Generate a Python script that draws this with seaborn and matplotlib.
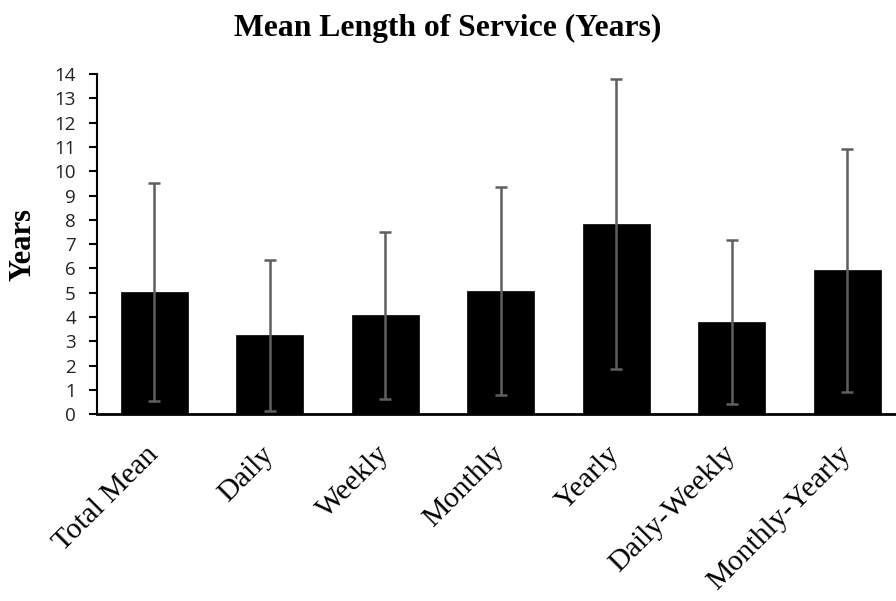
import matplotlib
matplotlib.use("Agg")
import matplotlib.pyplot as plt
import seaborn as sns
import pandas as pd

categories = ["Total Mean", "Daily", "Weekly", "Monthly", "Yearly",
              "Daily-Weekly", "Monthly-Yearly"]
mean_years = [5.03, 3.25, 4.07, 5.09, 7.83, 3.81, 5.92]
sd_years = [4.5, 3.1, 3.45, 4.28, 5.97, 3.38, 5.01]
y_ticks = list(range(0, 15))

df = pd.DataFrame({"category": categories, "mean": mean_years, "sd": sd_years})

sns.set_theme(style="white")
serif = ["Liberation Serif", "DejaVu Serif"]

fig = plt.figure(figsize=(8.96, 6.01), dpi=100)
ax = fig.add_axes([0.108, 0.3106, 0.902, 0.5662])

sns.barplot(data=df, x="category", y="mean", color="black", width=0.58,
            errorbar=None, saturation=1, ax=ax)
for p in ax.patches:
    p.set_edgecolor("black")
    p.set_linewidth(0.5)

centers = [p.get_x() + p.get_width() / 2 for p in ax.patches]
ax.errorbar(centers, df["mean"], yerr=df["sd"], fmt="none", ecolor="#5f5f5f",
            elinewidth=1.8, capsize=4.3, capthick=1.8, zorder=3)

ax.set_xlim(-0.5, len(categories) - 0.5)
ax.set_ylim(0, 14)
ax.set_yticks(y_ticks)
ax.set_yticklabels([str(t) for t in y_ticks], fontsize=13.5,
                   family=["Open Sans", "DejaVu Sans"], color="#222222")
ax.tick_params(axis="y", which="major", left=True, length=6, width=1.5,
               color="black", pad=9)
ax.tick_params(axis="x", bottom=False, pad=20)

for lbl in ax.get_xticklabels():
    lbl.set_rotation(45)
    lbl.set_ha("right")
    lbl.set_va("center")
    lbl.set_rotation_mode("anchor")
    lbl.set_family(serif)
    lbl.set_fontsize(21.5)
    lbl.set_color("black")

for side in ["top", "right"]:
    ax.spines[side].set_visible(False)
ax.spines["left"].set_color("black")
ax.spines["left"].set_linewidth(1.5)
ax.spines["bottom"].set_color("black")
ax.spines["bottom"].set_linewidth(2.0)

ax.set_xlabel("")
ax.set_ylabel("Years", fontsize=22, fontweight="bold", family=serif,
              color="black")
ax.yaxis.set_label_coords(-0.073, 0.5)

fig.text(0.5, 0.953, "Mean Length of Service (Years)", ha="center", va="center",
         fontsize=22.8, fontweight="bold", family=serif, color="black")

fig.savefig("out.png", dpi=100, facecolor="white")
